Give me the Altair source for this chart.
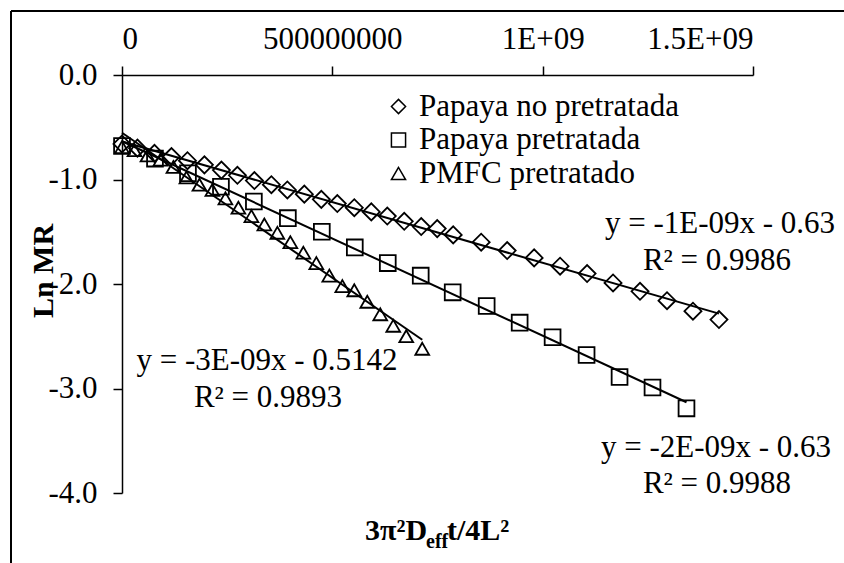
import altair as alt
import pandas as pd

# ---------------- data ----------------
series_names = ["Papaya no pretratada", "Papaya pretratada", "PMFC pretratado"]

diamond_x = [0, 0.368e8, 0.772e8, 1.176e8, 1.556e8, 1.959e8, 2.363e8, 2.743e8, 3.147e8,
             3.551e8, 3.931e8, 4.334e8, 4.738e8, 5.118e8, 5.522e8, 5.926e8, 6.306e8,
             6.709e8, 7.113e8, 7.493e8, 7.873e8, 8.538e8, 9.156e8, 9.797e8, 1.0414e9,
             1.1056e9, 1.1673e9, 1.2314e9, 1.2956e9, 1.3573e9, 1.4191e9]
diamond_y = [-0.66, -0.70, -0.75, -0.78, -0.82, -0.86, -0.91, -0.96, -1.01, -1.05, -1.10,
             -1.14, -1.19, -1.23, -1.27, -1.31, -1.35, -1.40, -1.45, -1.47, -1.53, -1.60,
             -1.68, -1.75, -1.83, -1.90, -1.99, -2.07, -2.16, -2.26, -2.34]

square_x = [0, 0.784e8, 1.568e8, 2.352e8, 3.135e8, 3.943e8, 4.75e8, 5.534e8, 6.318e8,
            7.101e8, 7.861e8, 8.669e8, 9.453e8, 1.0236e9, 1.1044e9, 1.1828e9, 1.2611e9,
            1.3419e9]
square_y = [-0.68, -0.80, -0.94, -1.07, -1.21, -1.37, -1.50, -1.65, -1.80, -1.92, -2.08,
            -2.21, -2.37, -2.51, -2.68, -2.89, -2.99, -3.19]

triangle_x = [0, 0.297e8, 0.606e8, 0.914e8, 1.223e8, 1.532e8, 1.841e8, 2.149e8, 2.458e8,
              2.767e8, 3.076e8, 3.384e8, 3.693e8, 4.002e8, 4.311e8, 4.619e8, 4.928e8,
              5.237e8, 5.522e8, 5.831e8, 6.139e8, 6.448e8, 6.757e8, 7.137e8]
triangle_y = [-0.69, -0.72, -0.77, -0.81, -0.88, -0.98, -1.05, -1.10, -1.18, -1.27, -1.35,
              -1.43, -1.51, -1.60, -1.70, -1.80, -1.92, -2.02, -2.06, -2.17, -2.29, -2.40,
              -2.50, -2.62]

x_ticks = [0, 5e8, 1e9, 1.5e9]
x_tick_labels = ["0", "500000000", "1E+09", "1.5E+09"]
y_ticks = [0, -1, -2, -3, -4]
y_tick_labels = ["0.0", "-1.0", "-2.0", "-3.0", "-4.0"]

eq_no = ["y = -1E-09x - 0.63", "R² = 0.9986"]
eq_pre = ["y = -2E-09x - 0.63", "R² = 0.9988"]
eq_pmfc = ["y = -3E-09x - 0.5142", "R² = 0.9893"]

# ---------------- build table ----------------
rows = []
for name, xs, ys in zip(series_names, [diamond_x, square_x, triangle_x],
                        [diamond_y, square_y, triangle_y]):
    for xv, yv in zip(xs, ys):
        rows.append({"serie": name, "x": xv, "y": yv})
df = pd.DataFrame(rows)


def label_expr(values, labels):
    parts = [f"datum.value == {v} ? '{l}'" for v, l in zip(values, labels)]
    return " : ".join(parts) + " : ''"


FONT = "Liberation Serif"
W, H = 631, 418
PAD_L, PAD_T = 122, 75

x_enc = alt.X("x:Q",
              scale=alt.Scale(domain=[0, 1.5e9], nice=False, zero=False),
              axis=alt.Axis(orient="top", values=x_ticks,
                            labelExpr=label_expr(x_ticks, x_tick_labels),
                            title=None, grid=False, tickSize=9, labelPadding=18,
                            labelBaseline="alphabetic"))
y_enc = alt.Y("y:Q",
              scale=alt.Scale(domain=[-4, 0], nice=False, zero=False),
              axis=alt.Axis(orient="left", values=y_ticks,
                            labelExpr=label_expr(y_ticks, y_tick_labels),
                            title=None, grid=False, tickSize=9, labelPadding=16))

shape_enc = alt.Shape(
    "serie:N",
    scale=alt.Scale(domain=series_names, range=["diamond", "square", "triangle-up"]),
    legend=alt.Legend(orient="none", legendX=261, legendY=16, title=None,
                      labelFont=FONT, labelFontSize=31, labelColor="black",
                      labelLimit=500,
                      symbolSize=200, symbolStrokeColor="black",
                      symbolStrokeWidth=1.5, symbolFillColor="transparent",
                      rowPadding=1.5, labelOffset=5),
)

base = alt.Chart(df)

marker_sizes = [290, 250, 190]
point_layers = [
    base.transform_filter(alt.datum.serie == name).mark_point(
        filled=False, color="black", strokeWidth=1.8, opacity=1, size=sz
    ).encode(x=x_enc, y=y_enc, shape=shape_enc)
    for name, sz in zip(series_names, marker_sizes)
]

lines = base.transform_regression("x", "y", groupby=["serie"]).mark_line(
    color="black", strokeWidth=2).encode(x="x:Q", y="y:Q", detail="serie:N")

one = pd.DataFrame({"a": [0]})


def txt(text, x, y, size=31, weight="normal", align="center", baseline="alphabetic", angle=0):
    return alt.Chart(one).mark_text(text=text, font=FONT, fontSize=size, fontWeight=weight,
                                    align=align, baseline=baseline, angle=angle,
                                    color="black").encode(x=alt.value(x), y=alt.value(y))


annotations = [
    txt(eq_no[0], 720 - PAD_L, 233 - PAD_T),
    txt(eq_no[1], 717 - PAD_L, 270 - PAD_T),
    txt(eq_pmfc[0], 267 - PAD_L, 370 - PAD_T),
    txt(eq_pmfc[1], 268 - PAD_L, 407 - PAD_T),
    txt(eq_pre[0], 716 - PAD_L, 457 - PAD_T),
    txt(eq_pre[1], 717 - PAD_L, 493 - PAD_T),
    # y-axis title
    txt("Ln MR", 53 - PAD_L, 271 - PAD_T, size=30, weight="bold", angle=270),
    # x-axis title in pieces (subscript)
    txt("3π²D", 365 - PAD_L, 540 - PAD_T, size=30, weight="bold", align="left"),
    txt("eff", 426 - PAD_L, 548 - PAD_T, size=20, weight="bold", align="left"),
    txt("t/4L²", 447 - PAD_L, 540 - PAD_T, size=30, weight="bold", align="left"),
]

border_top = alt.Chart(one).mark_rule(color="black", strokeWidth=2).encode(
    x=alt.value(11 - PAD_L), x2=alt.value(850 - PAD_L),
    y=alt.value(11 - PAD_T))
border_left = alt.Chart(one).mark_rule(color="black", strokeWidth=2).encode(
    x=alt.value(11 - PAD_L), y=alt.value(11 - PAD_T), y2=alt.value(570 - PAD_T))

chart = alt.layer(border_top, border_left, *point_layers, lines, *annotations).properties(
    width=W, height=H,
    padding={"left": PAD_L, "top": PAD_T, "right": 844 - PAD_L - W, "bottom": 563 - PAD_T - H},
    autosize=alt.AutoSizeParams(type="none"),
    background="white",
).configure_view(stroke=None).configure_axis(
    labelFont=FONT, labelFontSize=31, labelColor="black",
    domainColor="black", domainWidth=1.5, tickColor="black", tickWidth=1.5,
)

chart.save("out.html", embed_options={"renderer": "svg", "actions": False})
